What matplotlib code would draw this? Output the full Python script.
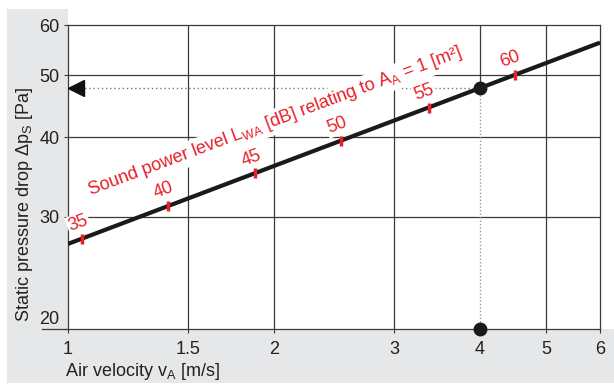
import matplotlib
matplotlib.use("Agg")
import matplotlib.pyplot as plt
from matplotlib.patches import Rectangle
from matplotlib.lines import Line2D

plt.rcParams['font.family'] = ['Liberation Sans', 'DejaVu Sans']
plt.rcParams['mathtext.fontset'] = 'custom'
plt.rcParams['mathtext.rm'] = 'Liberation Sans'
plt.rcParams['mathtext.it'] = 'Liberation Sans:italic'

# characteristic line (log-log straight line)
velocity_line = [1.0, 6.0]
pressure_line = [27.2, 56.3]

# sound power level marks on the line
db_levels = [35, 40, 45, 50, 55, 60]
db_velocity = [1.05, 1.40, 1.88, 2.51, 3.37, 4.50]
db_pressure = [27.7, 31.2, 35.1, 39.5, 44.5, 50.1]

# operating point
op_velocity = 4.0
op_pressure = 47.8

x_ticks = [1, 1.5, 2, 3, 4, 5, 6]
x_ticklabels = ['1', '1.5', '2', '3', '4', '5', '6']
y_ticks = [20, 30, 40, 50, 60]
y_ticklabels = ['20', '30', '40', '50', '60']

red = '#e8202a'
grid_c = '#3a3a3a'
fs = 13

fig = plt.figure(figsize=(6.14, 3.85), dpi=100)
fig.patch.set_facecolor('white')

# grey L-shaped background (behind everything)
gray = '#e6e7e8'
fig.patches.append(Rectangle((0.0114, 0.005), 0.0993, 0.972, transform=fig.transFigure,
                             facecolor=gray, edgecolor='none', zorder=-5))
fig.patches.append(Rectangle((0.0114, 0.005), 0.9886, 0.1405, transform=fig.transFigure,
                             facecolor=gray, edgecolor='none', zorder=-5))

ax = fig.add_axes([0.1107, 0.1455, 0.8665, 0.7895])
ax.set_facecolor('white')
ax.set_xscale('log')
ax.set_yscale('log')
ax.set_xlim(1, 6)
ax.set_ylim(20, 60)

ax.set_xticks(x_ticks)
ax.set_xticklabels(x_ticklabels)
ax.set_yticks(y_ticks)
ax.set_yticklabels(y_ticklabels)
ax.xaxis.set_minor_locator(matplotlib.ticker.NullLocator())
ax.yaxis.set_minor_locator(matplotlib.ticker.NullLocator())
ax.tick_params(labelsize=fs, length=3, width=0.8, color=grid_c, pad=3, labelcolor='#222222')
ax.tick_params(axis='x', pad=6)
# lift the "20" label off the x axis line
lab20 = ax.get_yticklabels()[0]
lab20.set_transform(lab20.get_transform() +
                    matplotlib.transforms.ScaledTranslation(0, 11 / 100, fig.dpi_scale_trans))

for s in ax.spines.values():
    s.set_color(grid_c)
    s.set_linewidth(0.9)

# grid lines
for yv in [30, 40, 50]:
    ax.axhline(yv, color=grid_c, lw=0.9, zorder=1)
for xv in [1.5, 2, 3, 5]:
    ax.axvline(xv, color=grid_c, lw=0.9, zorder=1)
ax.plot([op_velocity, op_velocity], [op_pressure, 60], color=grid_c, lw=0.9, zorder=1)

# x axis line extended to the left
ax.add_line(Line2D([-0.049, 0], [0, 0], transform=ax.transAxes, color=grid_c,
                   lw=0.9, clip_on=False))

# dotted reading lines
ax.plot([1.0, op_velocity], [op_pressure, op_pressure], color='#777777', lw=1,
        ls=(0, (1, 2)), zorder=2)
ax.plot([op_velocity, op_velocity], [20, op_pressure], color='#999999', lw=1,
        ls=(0, (1, 1.5)), zorder=2)
ax.plot([1.027], [op_pressure], marker='<', ms=11, color='#111111', clip_on=False, zorder=5)

# main characteristic
ax.plot(velocity_line, pressure_line, color='#1a1a1a', lw=3, solid_capstyle='butt', zorder=4)

# operating point markers
ax.plot([op_velocity], [op_pressure], 'o', ms=9, color='#1a1a1a', zorder=6)
ax.plot([op_velocity], [20], 'o', ms=9, color='#1a1a1a', zorder=6, clip_on=False)

# sound power level marks and labels
ax.plot(db_velocity, db_pressure, ls='none', marker='|', ms=7, mew=2.5, color=red, zorder=5)
for lvl, xv, yv in zip(db_levels, db_velocity, db_pressure):
    ax.annotate(str(lvl), (xv, yv), xytext=(-3, 11), textcoords='offset points',
                ha='center', va='center', rotation=20.5, rotation_mode='anchor',
                fontsize=fs, color=red, zorder=3,
                bbox=dict(facecolor='white', edgecolor='none', pad=1))

ax.text(2.007, 42.3, r'Sound power level L$_{\mathrm{WA}}$ [dB] relating to A$_{\mathrm{A}}$ = 1 [m²]',
        ha='center', va='center', rotation=20.5, rotation_mode='anchor',
        fontsize=fs, color=red, zorder=3,
        bbox=dict(facecolor='white', edgecolor='none', pad=1.5))

fig.text(65 / 614, 1 - 372 / 385, r'Air velocity v$_{\mathrm{A}}$ [m/s]', ha='left', va='center',
         fontsize=fs, color='#222222')
fig.text(25 / 614, 1 - 205 / 385, r'Static pressure drop $\Delta$p$_{\mathrm{S}}$ [Pa]',
         ha='center', va='center', rotation=90, fontsize=fs, color='#222222')

fig.savefig('out.png', dpi=100)
